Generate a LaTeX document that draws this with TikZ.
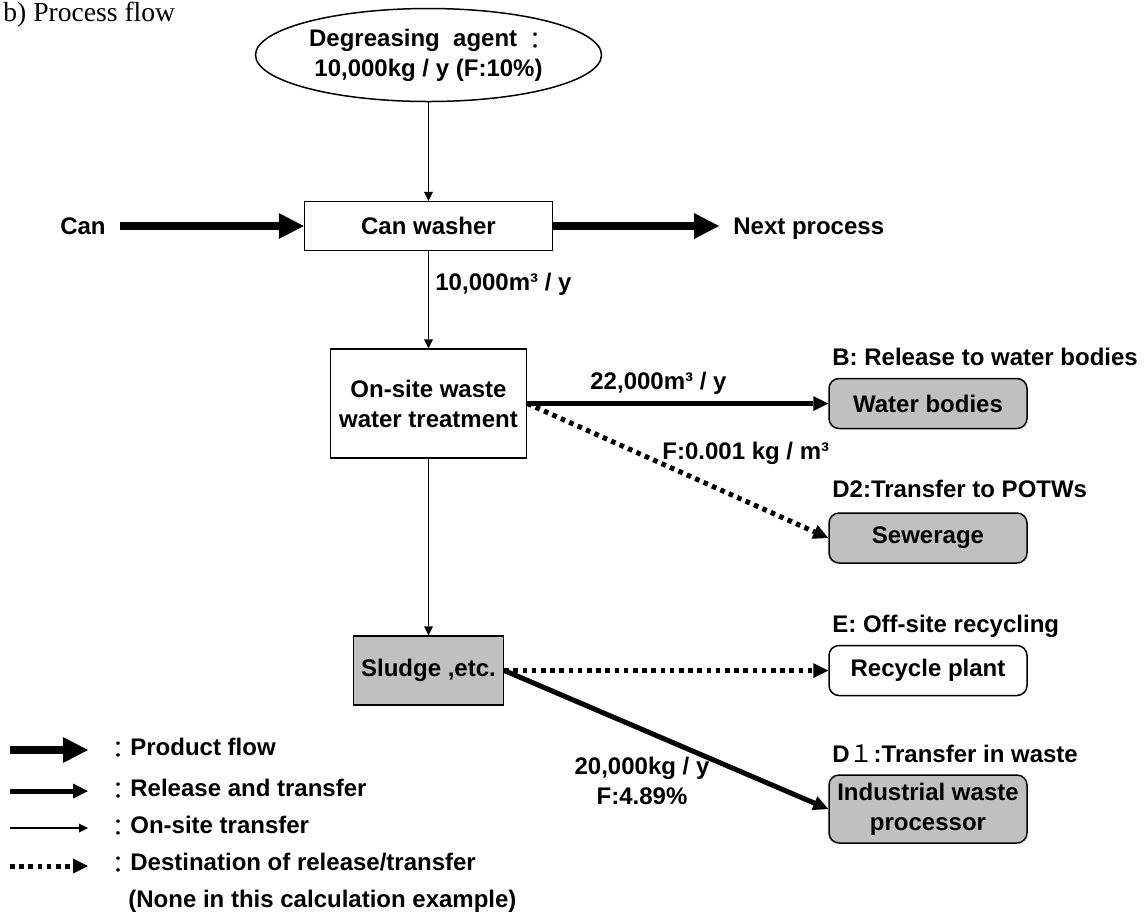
\documentclass[tikz,border=0pt]{standalone}
\usepackage{fontspec}
\setmainfont{Liberation Sans}
\newfontfamily\titleSerif{Liberation Serif}
\newfontfamily\cjk{Noto Sans CJK JP}
\usetikzlibrary{arrows.meta,shapes.geometric}
\definecolor{boxGray}{RGB}{192,192,192}
\newcommand{\flowFont}{\fontsize{12}{15}\selectfont\bfseries}
\newcommand{\titleFont}{\fontsize{13.8}{16}\selectfont\titleSerif}
\newcommand{\fwColon}{\raisebox{-1.5pt}{\cjk\mdseries ：}}

\begin{document}
\begin{tikzpicture}[x=0.5pt, y=-0.5pt, every node/.style={font=\flowFont},
		box/.style={draw, line width=0.75pt, fill=white, align=center, inner sep=0pt},
		roundbox/.style={box, rounded corners=5pt, minimum width=99pt, minimum height=25pt},
		lbl/.style={anchor=base west, inner sep=0pt},
		product/.style={line width=4pt, -{Triangle[length=12.5pt, width=13pt, line width=0pt]}},
		release/.style={line width=2.5pt, -{Triangle[length=7.5pt, width=7.5pt, line width=0pt]}},
		onsite/.style={line width=0.75pt, -{Triangle[length=4.5pt, width=4.5pt, line width=0pt]}},
		destination/.style={line width=2.5pt, dash pattern=on 2.3pt off 2.3pt, -{Triangle[length=7.5pt, width=7.5pt, line width=0pt]}}]
	\useasboundingbox (0,0) rectangle (1148,918);
	\node[lbl, font=\titleFont] (title) at (3,21) {b) Process flow};

	% main line
	\node[draw, ellipse, line width=0.75pt, minimum width=173pt, minimum height=46.5pt, inner sep=0pt, align=center] (agent) at (428.5,55) {Degreasing\ \ agent~\fwColon\\10,000kg / y (F:10\%)};
	\node[box, minimum width=124pt, minimum height=24.5pt] (washer) at (428.5,226) {Can washer};
	\node[box, minimum width=98pt, minimum height=54.5pt] (onsite) at (428.5,403.5) {On-site waste\\water treatment};
	\node[box, fill=boxGray, minimum width=75pt, minimum height=34.5pt] (sludge) at (428.5,670.5) {Sludge ,etc.};
	\node[anchor=east, inner xsep=7pt, inner ysep=0pt, text depth=0pt] (can) at (120,226) {Can};
	\node[anchor=west, inner xsep=7pt, inner ysep=0pt, text depth=0pt] (nextproc) at (719,226) {Next process};

	% destinations
	\node[roundbox, fill=boxGray] (water) at (928,403.5) {Water bodies};
	\node[roundbox, fill=boxGray] (sewer) at (928,538) {Sewerage};
	\node[roundbox] (recycle) at (928,670.5) {Recycle plant};
	\node[roundbox, fill=boxGray, minimum height=34pt] (indus) at (928,809) {Industrial waste\\processor};
	\node[lbl] (waterHead) at (832,365) {B: Release to water bodies};
	\node[lbl] (sewerHead) at (832,497) {D2:Transfer to POTWs};
	\node[lbl] (recycleHead) at (832,632) {E: Off-site recycling};
	\node[lbl] (indusHead) at (832,762) {D{\cjk\mdseries １}:Transfer in waste};

	\draw[product] (can.east) -- (washer.west);
	\draw[product] (washer.east) -- (nextproc.west);
	\draw[onsite] (agent.south) -- (washer.north);
	\draw[onsite] (washer.south) -- (onsite.north);
	\draw[onsite] (onsite.south) -- (sludge.north);
	\draw[release] (onsite.east) -- (water.west);
	\draw[destination] (onsite.east) -- (sewer.west);
	\draw[destination] (sludge.east) -- (recycle.west);
	\draw[release] (sludge.east) -- (indus.west);

	\node[lbl] (washerFlow) at (435,290) {10,000m³ / y};
	\node[lbl] (waterFlow) at (590,389) {22,000m³ / y};
	\node[lbl] (sewerConc) at (662,459) {F:0.001 kg / m³};
	\node[align=center, inner sep=0pt] (indusFlow) at (642,781) {20,000kg / y\\F:4.89\%};

	% legend
	\coordinate (lgProdA) at (10,750);
	\coordinate (lgProdB) at (88,750);
	\coordinate (lgRelA) at (10,791);
	\coordinate (lgRelB) at (88,791);
	\coordinate (lgOnA) at (10,828);
	\coordinate (lgOnB) at (88,828);
	\coordinate (lgDestA) at (10,866);
	\coordinate (lgDestB) at (88,866);
	\draw[product] (lgProdA) -- (lgProdB);
	\draw[release] (lgRelA) -- (lgRelB);
	\draw[onsite] (lgOnA) -- (lgOnB);
	\draw[destination] (lgDestA) -- (lgDestB);
	\node[lbl] (lgProd) at (106,755) {\fwColon Product flow};
	\node[lbl] (lgRel) at (106,796) {\fwColon Release and transfer};
	\node[lbl] (lgOn) at (106,833) {\fwColon On-site transfer};
	\node[lbl] (lgDest) at (106,870) {\fwColon Destination of release/transfer};
	\node[lbl] (lgDestNote) at (128,907) {(None in this calculation example)};
\end{tikzpicture}
\end{document}
